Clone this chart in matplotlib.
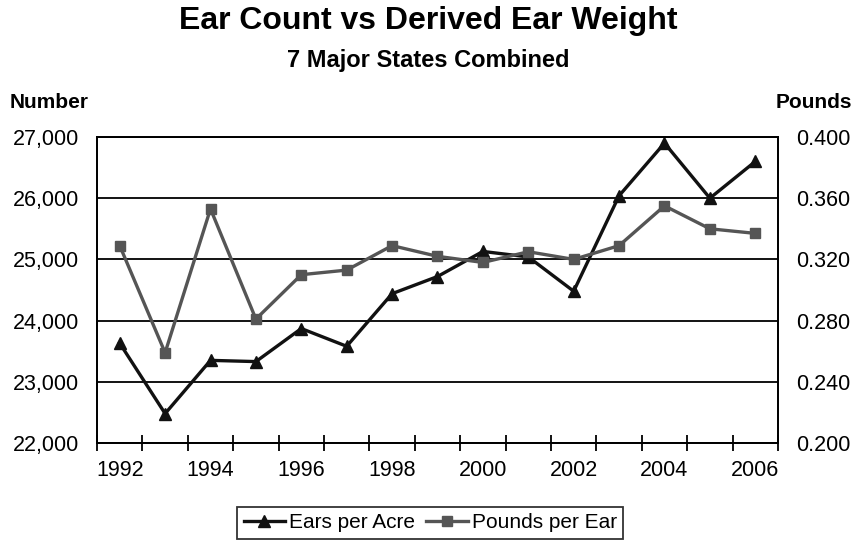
import numpy as np
import matplotlib
matplotlib.use("Agg")
import matplotlib.pyplot as plt
from matplotlib.ticker import FuncFormatter

years = np.arange(1992, 2007)
ears_per_acre = [23630, 22480, 23350, 23330, 23870, 23580, 24440, 24720,
                 25130, 25040, 24480, 26040, 26900, 26000, 26600]
pounds_per_ear = [0.329, 0.259, 0.353, 0.281, 0.310, 0.313, 0.329, 0.322,
                  0.318, 0.325, 0.320, 0.329, 0.355, 0.340, 0.337]
left_ticks = [22000, 23000, 24000, 25000, 26000, 27000]
right_ticks = [0.200, 0.240, 0.280, 0.320, 0.360, 0.400]

plt.rcParams['font.family'] = ['Liberation Sans', 'DejaVu Sans']

fig = plt.figure(figsize=(8.57, 5.43), dpi=100)
ax = fig.add_axes([0.1132, 0.1842, 0.7946, 0.5635])
ax2 = ax.twinx()

# gridlines from the left axis
ax.set_ylim(22000, 27000)
ax.set_yticks(left_ticks)
ax.yaxis.set_major_formatter(FuncFormatter(lambda v, p: f"{int(v):,}"))
ax.grid(axis='y', color='black', linewidth=1.3)
ax.set_axisbelow(True)

ax2.set_ylim(0.2, 0.4)
ax2.set_yticks(right_ticks)
ax2.yaxis.set_major_formatter(FuncFormatter(lambda v, p: f"{v:.3f}"))

l1, = ax.plot(years, ears_per_acre, color='#111111', lw=2.4, marker='^',
              markersize=9, label='Ears per Acre', zorder=4)
l2, = ax2.plot(years, pounds_per_ear, color='#555555', lw=2.4, marker='s',
               markersize=7.5, label='Pounds per Ear', zorder=3)

ax.set_xlim(1991.5, 2006.5)
ax.set_xticks(years[::2])
ax.set_xticks(np.arange(1991.5, 2007, 1), minor=True)
ax.tick_params(axis='x', which='major', length=0, pad=12, labelsize=15.5)
ax.tick_params(axis='x', which='minor', direction='inout', length=11, width=1.3)
ax.tick_params(axis='y', length=0, pad=13, labelsize=15.5)
ax2.tick_params(axis='y', length=0, pad=13, labelsize=15.5)

for a in (ax, ax2):
    for s in a.spines.values():
        s.set_linewidth(1.3)
        s.set_color('black')

fig.text(0.5, 0.962, "Ear Count vs Derived Ear Weight", ha='center', va='center',
         fontsize=23, fontweight='bold')
fig.text(0.5, 0.888, "7 Major States Combined", ha='center', va='center',
         fontsize=17, fontweight='bold')
fig.text(10 / 857, 1 - 103 / 543, "Number", ha='left', va='center',
         fontsize=15, fontweight='bold')
fig.text(852 / 857, 1 - 103 / 543, "Pounds", ha='right', va='center',
         fontsize=15, fontweight='bold')

leg = fig.legend(handles=[l1, l2], loc='center', bbox_to_anchor=(0.502, 1 - 523 / 543),
                 ncol=2, fontsize=15, frameon=True, fancybox=False,
                 handlelength=2.0, handletextpad=0.2, columnspacing=0.5,
                 borderpad=0.3, borderaxespad=0)
leg.get_frame().set_edgecolor('black')
leg.get_frame().set_linewidth(1.3)

fig.savefig("out.png", dpi=100)
